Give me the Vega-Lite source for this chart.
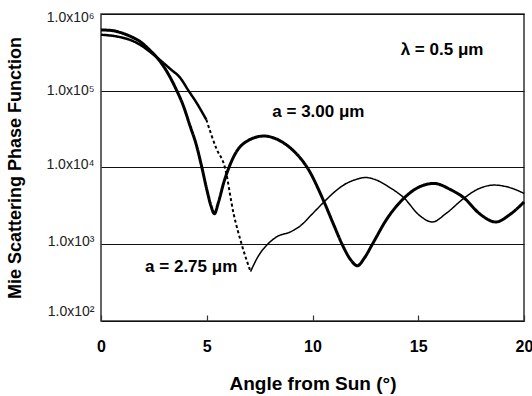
{
  "$schema": "https://vega.github.io/schema/vega-lite/v6.json",
  "width": 423,
  "height": 307,
  "autosize": {"type": "none"},
  "padding": {"left": 101, "top": 14, "right": 8, "bottom": 75},
  "background": "white",
  "config": {
    "font": "Liberation Sans",
    "view": {"stroke": "#333", "strokeWidth": 1.5}
  },
  "layer": [
    {
      "data": {
        "values": [
          {"s": "thick", "angle": 0, "p": 620000},
          {"s": "thick", "angle": 0.5, "p": 610000},
          {"s": "thick", "angle": 0.9, "p": 575000},
          {"s": "thick", "angle": 1.4, "p": 510000},
          {"s": "thick", "angle": 1.85, "p": 437000},
          {"s": "thick", "angle": 2.3, "p": 340000},
          {"s": "thick", "angle": 2.8, "p": 240000},
          {"s": "thick", "angle": 3.2, "p": 162000},
          {"s": "thick", "angle": 3.55, "p": 105000},
          {"s": "thick", "angle": 3.9, "p": 63000},
          {"s": "thick", "angle": 4.2, "p": 35500},
          {"s": "thick", "angle": 4.5, "p": 20000},
          {"s": "thick", "angle": 4.77, "p": 10000},
          {"s": "thick", "angle": 5.0, "p": 5200},
          {"s": "thick", "angle": 5.2, "p": 3160},
          {"s": "thick", "angle": 5.36, "p": 2500},
          {"s": "thick", "angle": 5.55, "p": 3500},
          {"s": "thick", "angle": 5.8, "p": 6300},
          {"s": "thick", "angle": 6.05, "p": 10000},
          {"s": "thick", "angle": 6.4, "p": 16000},
          {"s": "thick", "angle": 6.9, "p": 22000},
          {"s": "thick", "angle": 7.7, "p": 25700},
          {"s": "thick", "angle": 8.5, "p": 22000},
          {"s": "thick", "angle": 9.0, "p": 17500},
          {"s": "thick", "angle": 9.43, "p": 13200},
          {"s": "thick", "angle": 9.75, "p": 10000},
          {"s": "thick", "angle": 10.54, "p": 3600},
          {"s": "thick", "angle": 11.0, "p": 1800},
          {"s": "thick", "angle": 11.4, "p": 1000},
          {"s": "thick", "angle": 11.8, "p": 630},
          {"s": "thick", "angle": 12.12, "p": 525},
          {"s": "thick", "angle": 12.45, "p": 660},
          {"s": "thick", "angle": 12.83, "p": 1000},
          {"s": "thick", "angle": 13.5, "p": 2100},
          {"s": "thick", "angle": 14.33, "p": 4000},
          {"s": "thick", "angle": 15.0, "p": 5500},
          {"s": "thick", "angle": 15.75, "p": 6200},
          {"s": "thick", "angle": 16.5, "p": 5200},
          {"s": "thick", "angle": 17.17, "p": 4000},
          {"s": "thick", "angle": 17.9, "p": 2500},
          {"s": "thick", "angle": 18.67, "p": 1950},
          {"s": "thick", "angle": 19.3, "p": 2400},
          {"s": "thick", "angle": 20, "p": 3550},
          {"s": "thin1", "angle": 0, "p": 537000},
          {"s": "thin1", "angle": 0.9, "p": 500000},
          {"s": "thin1", "angle": 1.4, "p": 457000},
          {"s": "thin1", "angle": 1.85, "p": 398000},
          {"s": "thin1", "angle": 2.3, "p": 324000},
          {"s": "thin1", "angle": 2.8, "p": 250000},
          {"s": "thin1", "angle": 3.3, "p": 190000},
          {"s": "thin1", "angle": 3.74, "p": 148000},
          {"s": "thin1", "angle": 4.14, "p": 100000},
          {"s": "thin1", "angle": 4.5, "p": 71000},
          {"s": "thin1", "angle": 4.98, "p": 42000},
          {"s": "dash", "angle": 4.98, "p": 42000},
          {"s": "dash", "angle": 5.45, "p": 17800},
          {"s": "dash", "angle": 5.86, "p": 10000},
          {"s": "dash", "angle": 6.27, "p": 2500},
          {"s": "dash", "angle": 6.65, "p": 1000},
          {"s": "dash", "angle": 7.07, "p": 440},
          {"s": "thin2", "angle": 7.07, "p": 440},
          {"s": "thin2", "angle": 7.45, "p": 710},
          {"s": "thin2", "angle": 7.88, "p": 1000},
          {"s": "thin2", "angle": 8.33, "p": 1260},
          {"s": "thin2", "angle": 8.96, "p": 1450},
          {"s": "thin2", "angle": 9.43, "p": 1740},
          {"s": "thin2", "angle": 10.0, "p": 2500},
          {"s": "thin2", "angle": 10.54, "p": 3550},
          {"s": "thin2", "angle": 11.0, "p": 4700},
          {"s": "thin2", "angle": 11.6, "p": 6200},
          {"s": "thin2", "angle": 12.0, "p": 6900},
          {"s": "thin2", "angle": 12.5, "p": 7400},
          {"s": "thin2", "angle": 13.0, "p": 6900},
          {"s": "thin2", "angle": 13.6, "p": 5600},
          {"s": "thin2", "angle": 14.33, "p": 4000},
          {"s": "thin2", "angle": 15.04, "p": 2400},
          {"s": "thin2", "angle": 15.67, "p": 1950},
          {"s": "thin2", "angle": 16.3, "p": 2500},
          {"s": "thin2", "angle": 17.17, "p": 4000},
          {"s": "thin2", "angle": 17.8, "p": 5200},
          {"s": "thin2", "angle": 18.6, "p": 5900},
          {"s": "thin2", "angle": 19.3, "p": 5500},
          {"s": "thin2", "angle": 20, "p": 4600}
        ]
      },
      "mark": {"type": "line", "interpolate": "monotone", "color": "black"},
      "encoding": {
        "x": {
          "field": "angle", "type": "quantitative",
          "scale": {"domain": [0, 20], "nice": false},
          "axis": {
            "values": [0, 5, 10, 15, 20],
            "grid": false, "domain": false,
            "ticks": true, "tickSize": -6, "tickColor": "#333", "tickWidth": 1.2,
            "labelFontSize": 16, "labelFontWeight": "bold", "labelColor": "black",
            "labelPadding": 23, "labelFlush": false,
            "title": "Angle from Sun (°)",
            "titleFontSize": 19, "titleFontWeight": "bold", "titleColor": "black",
            "titleBaseline": "middle", "titleX": 211.5, "titleY": 62
          }
        },
        "y": {
          "field": "p", "type": "quantitative",
          "scale": {"type": "log", "domain": [100, 1000000], "nice": false},
          "axis": {
            "values": [100, 1000, 10000, 100000, 1000000],
            "labelExpr": "datum.value == 100 ? '1.0x10²' : datum.value == 1000 ? '1.0x10³' : datum.value == 10000 ? '1.0x10⁴' : datum.value == 100000 ? '1.0x10⁵' : '1.0x10⁶'",
            "grid": true, "gridColor": "#111", "gridWidth": 1, "gridOpacity": 1,
            "ticks": false, "domain": false,
            "labelFontSize": 14, "labelColor": "#222", "labelPadding": 7,
            "labelOffset": {"expr": "datum.value == 1000000 ? 3 : datum.value == 100 ? -10 : datum.value == 100000 ? 0 : -3"},
            "title": "Mie Scattering Phase Function",
            "titleFontSize": 18, "titleFontWeight": "bold", "titleColor": "black",
            "titleAngle": -90, "titleBaseline": "middle", "titleAlign": "center",
            "titleX": -86, "titleY": 153.5
          }
        },
        "detail": {"field": "s", "type": "nominal"},
        "strokeWidth": {
          "field": "s", "type": "ordinal",
          "scale": {"domain": ["thick", "thin1", "dash", "thin2"], "range": [3, 1.5, 1.8, 1.5]},
          "legend": null
        },
        "strokeDash": {
          "field": "s", "type": "nominal",
          "scale": {"domain": ["thick", "thin1", "dash", "thin2"], "range": [[1, 0], [1, 0], [3, 2.5], [1, 0]]},
          "legend": null
        }
      }
    },
    {
      "data": {
        "values": [
          {"angle": 14.17, "p": 340000, "t": "λ = 0.5 μm"},
          {"angle": 8.1, "p": 53000, "t": "a = 3.00 μm"},
          {"angle": 2.085, "p": 500, "t": "a = 2.75 μm"}
        ]
      },
      "mark": {"type": "text", "align": "left", "baseline": "middle", "fontSize": 17, "fontWeight": "bold", "color": "black"},
      "encoding": {
        "x": {"field": "angle", "type": "quantitative"},
        "y": {"field": "p", "type": "quantitative"},
        "text": {"field": "t", "type": "nominal"}
      }
    }
  ]
}
